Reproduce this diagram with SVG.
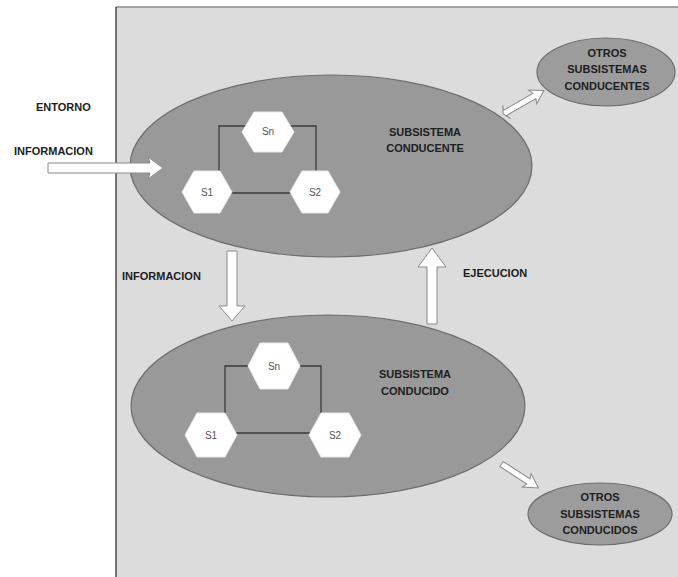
<svg xmlns="http://www.w3.org/2000/svg" width="678" height="577" viewBox="0 0 678 577">
  <defs>
    <style>
      .panel { fill: #dcdcdc; }
      .big { fill: #999999; stroke: #6e6e6e; stroke-width: 1.2; }
      .small { fill: #9c9c9c; stroke: #6e6e6e; stroke-width: 1.2; }
      .hex { fill: #ffffff; stroke: #e8e8e8; stroke-width: 1; }
      .wire { fill: none; stroke: #3a3a3a; stroke-width: 1.3; }
      .blk { fill: #ffffff; stroke: #8a8a8a; stroke-width: 1; }
      .lbl { font-family: "Liberation Sans", Arial, sans-serif; font-weight: bold; font-size: 11px; fill: #1e1e1e; }
      .mid { text-anchor: middle; }
      .hl { font-family: "Liberation Sans", Arial, sans-serif; font-size: 10px; fill: #555555; text-anchor: middle; }
    </style>
  </defs>

  <!-- background and environment panel -->
  <rect x="0" y="0" width="678" height="577" fill="#ffffff"/>
  <rect class="panel" x="116" y="7" width="562" height="570"/>
  <line x1="116" y1="7" x2="678" y2="7" stroke="#8c8c8c" stroke-width="1.5"/>
  <line x1="116" y1="7" x2="116" y2="577" stroke="#222222" stroke-width="1.2"/>

  <text class="lbl" x="36" y="111">ENTORNO</text>
  <text class="lbl" x="14" y="155">INFORMACION</text>
  <text class="lbl" x="122" y="280">INFORMACION</text>
  <text class="lbl" x="463" y="277">EJECUCION</text>

  <!-- conducting subsystem -->
  <g id="conducente">
    <ellipse class="big" cx="331" cy="166" rx="201" ry="91"/>
    <polyline class="wire" points="219,172 219,126 316,126 316,172"/>
    <line class="wire" x1="225" y1="193" x2="300" y2="193"/>
    <text class="lbl mid" x="425" y="136">SUBSISTEMA</text>
    <text class="lbl mid" x="425" y="152">CONDUCENTE</text>
  </g>
  <g id="c-sn">
    <polygon class="hex" points="242,132 254,112 282,112 294,132 282,152 254,152"/>
    <text class="hl" x="268" y="135">Sn</text>
  </g>
  <g id="c-s1">
    <polygon class="hex" points="182,192 194,171 220,171 232,192 220,213 194,213"/>
    <text class="hl" x="207" y="196">S1</text>
  </g>
  <g id="c-s2">
    <polygon class="hex" points="290,192 302,171 328,171 340,192 328,213 302,213"/>
    <text class="hl" x="315" y="196">S2</text>
  </g>

  <!-- conducted subsystem -->
  <g id="conducido">
    <ellipse class="big" cx="328" cy="406" rx="197" ry="91"/>
    <polyline class="wire" points="225,414 225,366 321,366 321,414"/>
    <line class="wire" x1="230" y1="433" x2="315" y2="433"/>
    <text class="lbl mid" x="415" y="378">SUBSISTEMA</text>
    <text class="lbl mid" x="415" y="395">CONDUCIDO</text>
  </g>
  <g id="d-sn">
    <polygon class="hex" points="248,366 260,343 288,343 300,366 288,389 260,389"/>
    <text class="hl" x="274" y="370">Sn</text>
  </g>
  <g id="d-s1">
    <polygon class="hex" points="185,435 197,413 225,413 237,435 225,457 197,457"/>
    <text class="hl" x="211" y="439">S1</text>
  </g>
  <g id="d-s2">
    <polygon class="hex" points="309,435 321,413 349,413 361,435 349,457 321,457"/>
    <text class="hl" x="335" y="439">S2</text>
  </g>

  <!-- other subsystems -->
  <g id="otros-conducentes">
    <ellipse class="small" cx="606" cy="72" rx="69" ry="34"/>
    <text class="lbl mid" x="607" y="57">OTROS</text>
    <text class="lbl mid" x="607" y="73">SUBSISTEMAS</text>
    <text class="lbl mid" x="607" y="90">CONDUCENTES</text>
  </g>
  <g id="otros-conducidos">
    <ellipse class="small" cx="600" cy="514" rx="72" ry="31"/>
    <text class="lbl mid" x="600" y="501">OTROS</text>
    <text class="lbl mid" x="600" y="518">SUBSISTEMAS</text>
    <text class="lbl mid" x="600" y="534">CONDUCIDOS</text>
  </g>

  <!-- connectors (block arrows), drawn over the subsystems -->
  <g id="connectors">
    <!-- incoming information from environment -->
    <polygon class="blk" points="48,163 150,163 148,157 163,168 148,179 150,173 48,173"/>
    <!-- information: conducting -> conducted -->
    <polygon class="blk" points="227,251 237,251 237,306 245,306 232,321 219,306 227,306"/>
    <!-- execution: conducted -> conducting -->
    <polygon class="blk" points="427,324 437,324 437,267 446,267 432,248 418,267 427,267"/>
    <!-- link to other conducting subsystems (two-way) -->
    <g transform="translate(524,102) rotate(-30)">
      <polygon class="blk" points="-22,-3 12,-3 10,-8 23,0 10,8 12,3 -22,3 -20,8 -24,0 -20,-8"/>
    </g>
    <!-- link to other conducted subsystems -->
    <g transform="translate(520,476) rotate(33)">
      <polygon class="blk" points="-22,-3 10,-3 8,-8 22,0 8,8 10,3 -22,3"/>
    </g>
  </g>
</svg>
